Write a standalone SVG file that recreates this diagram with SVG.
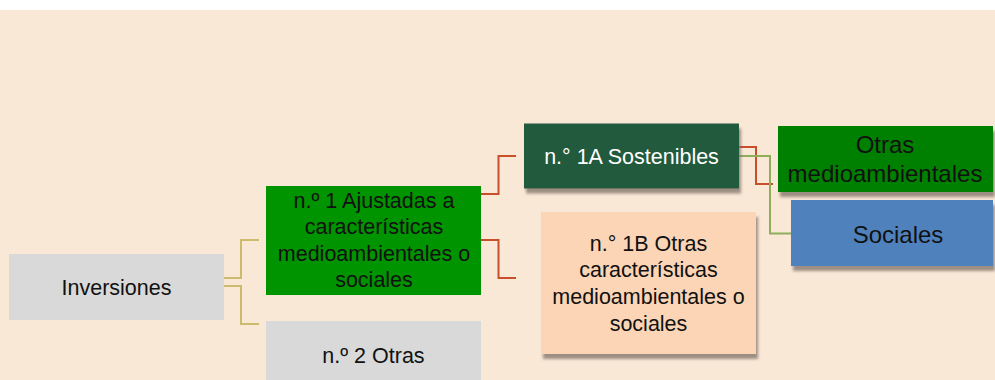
<svg xmlns="http://www.w3.org/2000/svg" width="995" height="380" viewBox="0 0 995 380">
<defs>
<filter id="sh" x="-10%" y="-10%" width="130%" height="140%">
<feGaussianBlur in="SourceAlpha" stdDeviation="1.6"/>
<feOffset dx="2" dy="5" result="b"/>
<feFlood flood-color="#7d7065" flood-opacity="0.75"/>
<feComposite in2="b" operator="in"/>
<feMerge><feMergeNode/><feMergeNode in="SourceGraphic"/></feMerge>
</filter>
</defs>
<style>
text{font-family:"Liberation Sans",Arial,sans-serif;font-size:21.5px;text-anchor:middle;fill:#111}
.big{font-size:24px}
.lt{fill:#ffffff}
.c{fill:none;stroke-width:2}
.tan{stroke:#cbbb6c}
.red{stroke:#c84e2c}
.grn{stroke:#8eae5a}
</style>
<rect x="0" y="0" width="995" height="380" fill="#ffffff"/>
<rect x="0" y="10" width="995" height="370" fill="#fae8d7"/>
<g id="connectors">
<polyline class="c tan" points="224,278 241,278 241,240 259,240"/>
<polyline class="c tan" points="224,286 241,286 241,324 259,324"/>
<polyline class="c red" points="481,194 498.5,194 498.5,156 516,156"/>
<polyline class="c red" points="481,240 498.5,240 498.5,278 516,278"/>
<polyline class="c red" points="739,147 756,147 756,184 773,184"/>
<polyline class="c grn" points="739,156 770,156 770,233.5 791,233.5"/>
</g>
<g id="n-inversiones">
<rect x="9" y="254" width="215" height="66" fill="#d9d9d9"/>
<text x="116.5" y="294.5">Inversiones</text>
</g>
<g id="n-1">
<rect x="266" y="186" width="215" height="109" fill="#009400"/>
<text x="374" y="207.5">n.º 1 Ajustadas a</text>
<text x="374" y="234">características</text>
<text x="374" y="260.5">medioambientales o</text>
<text x="374" y="287">sociales</text>
</g>
<g id="n-2">
<rect x="266" y="321" width="215" height="70" fill="#d9d9d9"/>
<text x="373.5" y="362.5">n.º 2 Otras</text>
</g>
<g id="n-1a">
<rect x="524" y="123.5" width="215" height="65" fill="#245a3e" filter="url(#sh)"/>
<text class="lt" x="631.5" y="164">n.° 1A Sostenibles</text>
</g>
<g id="n-1b">
<rect x="541" y="212" width="215" height="142" fill="#fbd5b5" filter="url(#sh)"/>
<text x="648.5" y="250.5">n.° 1B Otras</text>
<text x="648.5" y="277.3">características</text>
<text x="648.5" y="304.1">medioambientales o</text>
<text x="648.5" y="331">sociales</text>
</g>
<g id="n-otras">
<rect x="778" y="126" width="215" height="66" fill="#008000" filter="url(#sh)"/>
<text class="big" x="885" y="153">Otras</text>
<text class="big" x="885" y="182">medioambientales</text>
</g>
<g id="n-sociales">
<rect x="791" y="200" width="202" height="66" fill="#4f81bd" filter="url(#sh)"/>
<text class="big" x="898" y="243">Sociales</text>
</g>
</svg>
